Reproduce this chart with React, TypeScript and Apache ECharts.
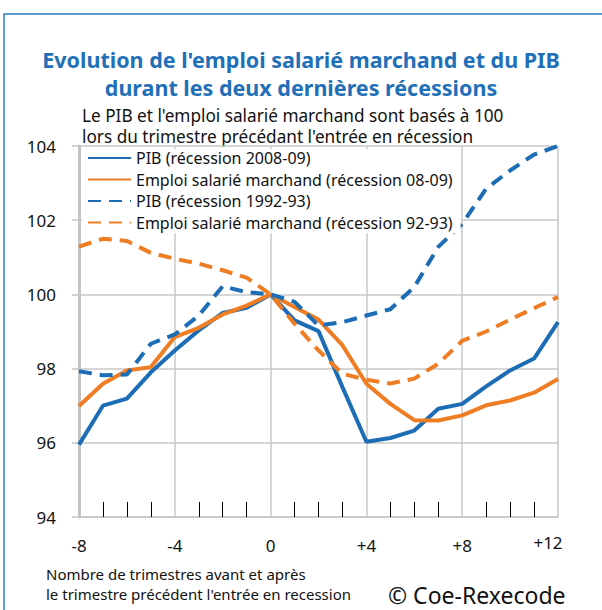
import React, { useEffect, useRef } from "react";
import * as echarts from "echarts";

const quarters = [-8, -7, -6, -5, -4, -3, -2, -1, 0, 1, 2, 3, 4, 5, 6, 7, 8, 9, 10, 11, 12];
const pib0809 = [95.95, 97.0, 97.19, 97.9, 98.49, 99.03, 99.5, 99.64, 100, 99.3, 99.01, 97.5, 96.03, 96.13, 96.33, 96.92, 97.05, 97.52, 97.95, 98.27, 99.25];
const emploi0809 = [96.99, 97.59, 97.95, 98.04, 98.85, 99.1, 99.46, 99.7, 100, 99.66, 99.32, 98.63, 97.59, 97.05, 96.61, 96.6, 96.74, 97.01, 97.14, 97.35, 97.72];
const pib9293 = [97.93, 97.82, 97.84, 98.67, 98.92, 99.43, 100.22, 100.06, 100, 99.8, 99.16, 99.25, 99.43, 99.6, 100.2, 101.28, 101.9, 102.85, 103.34, 103.77, 104.0];
const emploi9293 = [101.29, 101.5, 101.44, 101.12, 100.96, 100.83, 100.65, 100.45, 100, 99.21, 98.49, 97.86, 97.7, 97.6, 97.73, 98.13, 98.75, 99.0, 99.32, 99.63, 99.93];

const seriesNames = [
  "PIB (récession 2008-09)",
  "Emploi salarié marchand (récession 08-09)",
  "PIB (récession 1992-93)",
  "Emploi salarié marchand (récession 92-93)",
];
const titleLines = ["Evolution de l'emploi salarié marchand et du PIB", "durant les deux dernières récessions"];
const subtitleLines = ["Le PIB et l'emploi salarié marchand sont basés à 100", "lors du trimestre précédant l'entrée en récession"];
const noteLines = ["Nombre de trimestres avant et après", "le trimestre précédent l'entrée en recession"];
const sourceText = "© Coe-Rexecode";

const BLUE = "#1c6db5";
const ORANGE = "#ee7d23";
const FONT = "Noto Sans";

export default function App() {
  const ref = useRef<HTMLDivElement>(null);
  useEffect(() => {
    if (!ref.current) return;
    const chart = echarts.init(ref.current, undefined, { renderer: "svg" });
    const pairs = (vals: number[]) => quarters.map((q, i) => [q, vals[i]]);
    const mk = (name: string, vals: number[], color: string, dashed: boolean) => ({
      name,
      type: "line",
      data: pairs(vals),
      symbol: "none",
      showSymbol: false,
      lineStyle: { color, width: 4, type: dashed ? [13, 8] : "solid" },
      itemStyle: { color },
      z: 3,
    });
    const txt = (text: string, x: number, y: number, size: number, color: string, align: string, weight = "normal") => ({
      type: "text",
      x,
      y,
      silent: true,
      style: {
        text,
        fontFamily: FONT,
        fontSize: size,
        fontWeight: weight,
        fill: color,
        textAlign: align,
        textVerticalAlign: "middle",
      },
    });
    chart.setOption({
      animation: false,
      textStyle: { fontFamily: FONT },
      grid: { left: 79, top: 146, right: 44, bottom: 93, containLabel: false },
      legend: {
        orient: "vertical",
        left: 82,
        top: 149,
        padding: [1, 8, 3, 5],
        backgroundColor: "#ffffff",
        itemWidth: 43,
        itemHeight: 14,
        itemGap: 5.5,
        itemStyle: { opacity: 0 },
        data: seriesNames,
        textStyle: { fontFamily: FONT, fontSize: 16, color: "#111", lineHeight: 14 },
      },
      xAxis: {
        type: "value",
        min: -8,
        max: 12,
        interval: 4,
        axisLine: { show: true, onZero: false, lineStyle: { color: "#c4c4c4", width: 1.5 } },
        axisTick: { show: false, inside: true },
        minorTick: { show: true, splitNumber: 4, length: 15, lineStyle: { color: "#000", width: 1 } },
        minorSplitLine: { show: false },
        splitLine: { show: true, lineStyle: { color: "#c8c8c8", width: 1.5 } },
        axisLabel: {
          fontFamily: FONT,
          fontSize: 17,
          color: "#111",
          margin: 20,
          formatter: (v: number) => (v === 12 ? "{r|+12}" : v > 0 ? "+" + v : String(v)),
          rich: {
            r: { fontFamily: FONT, fontSize: 17, color: "#111", padding: [0, 20, 0, 0], lineHeight: 10 },
          },
        },
      },
      yAxis: {
        type: "value",
        min: 94,
        max: 104,
        interval: 2,
        axisLine: { show: true, onZero: false, lineStyle: { color: "#c4c4c4", width: 3 } },
        axisTick: { show: true, length: 7, lineStyle: { color: "#c4c4c4", width: 1.5 } },
        splitLine: { show: true, lineStyle: { color: "#c8c8c8", width: 1.5 } },
        axisLabel: { fontFamily: FONT, fontSize: 17, color: "#111", margin: 23 },
      },
      series: [
        mk(seriesNames[0], pib0809, BLUE, false),
        mk(seriesNames[1], emploi0809, ORANGE, false),
        mk(seriesNames[2], pib9293, BLUE, true),
        mk(seriesNames[3], emploi9293, ORANGE, true),
      ],
      graphic: [
        {
          type: "rect",
          shape: { x: 4, y: 14, width: 800, height: 800 },
          style: { fill: "none", stroke: "#2a7cc4", lineWidth: 1.5 },
          silent: true,
        },
        txt(titleLines[0], 301, 59, 21.5, "#1f70b8", "center", "bold"),
        txt(titleLines[1], 301, 87, 21.5, "#1f70b8", "center", "bold"),
        txt(subtitleLines[0], 82, 115.5, 17.2, "#111", "left"),
        txt(subtitleLines[1], 82, 136.5, 17.2, "#111", "left"),
        txt(noteLines[0], 46, 574, 15, "#111", "left"),
        txt(noteLines[1], 46, 594, 15, "#111", "left"),
        txt(sourceText, 388, 595, 23, "#111", "left"),
      ],
    });
    return () => chart.dispose();
  }, []);
  return <div ref={ref} style={{ position: "absolute", left: 0, top: 0, width: 602, height: 610 }} />;
}
